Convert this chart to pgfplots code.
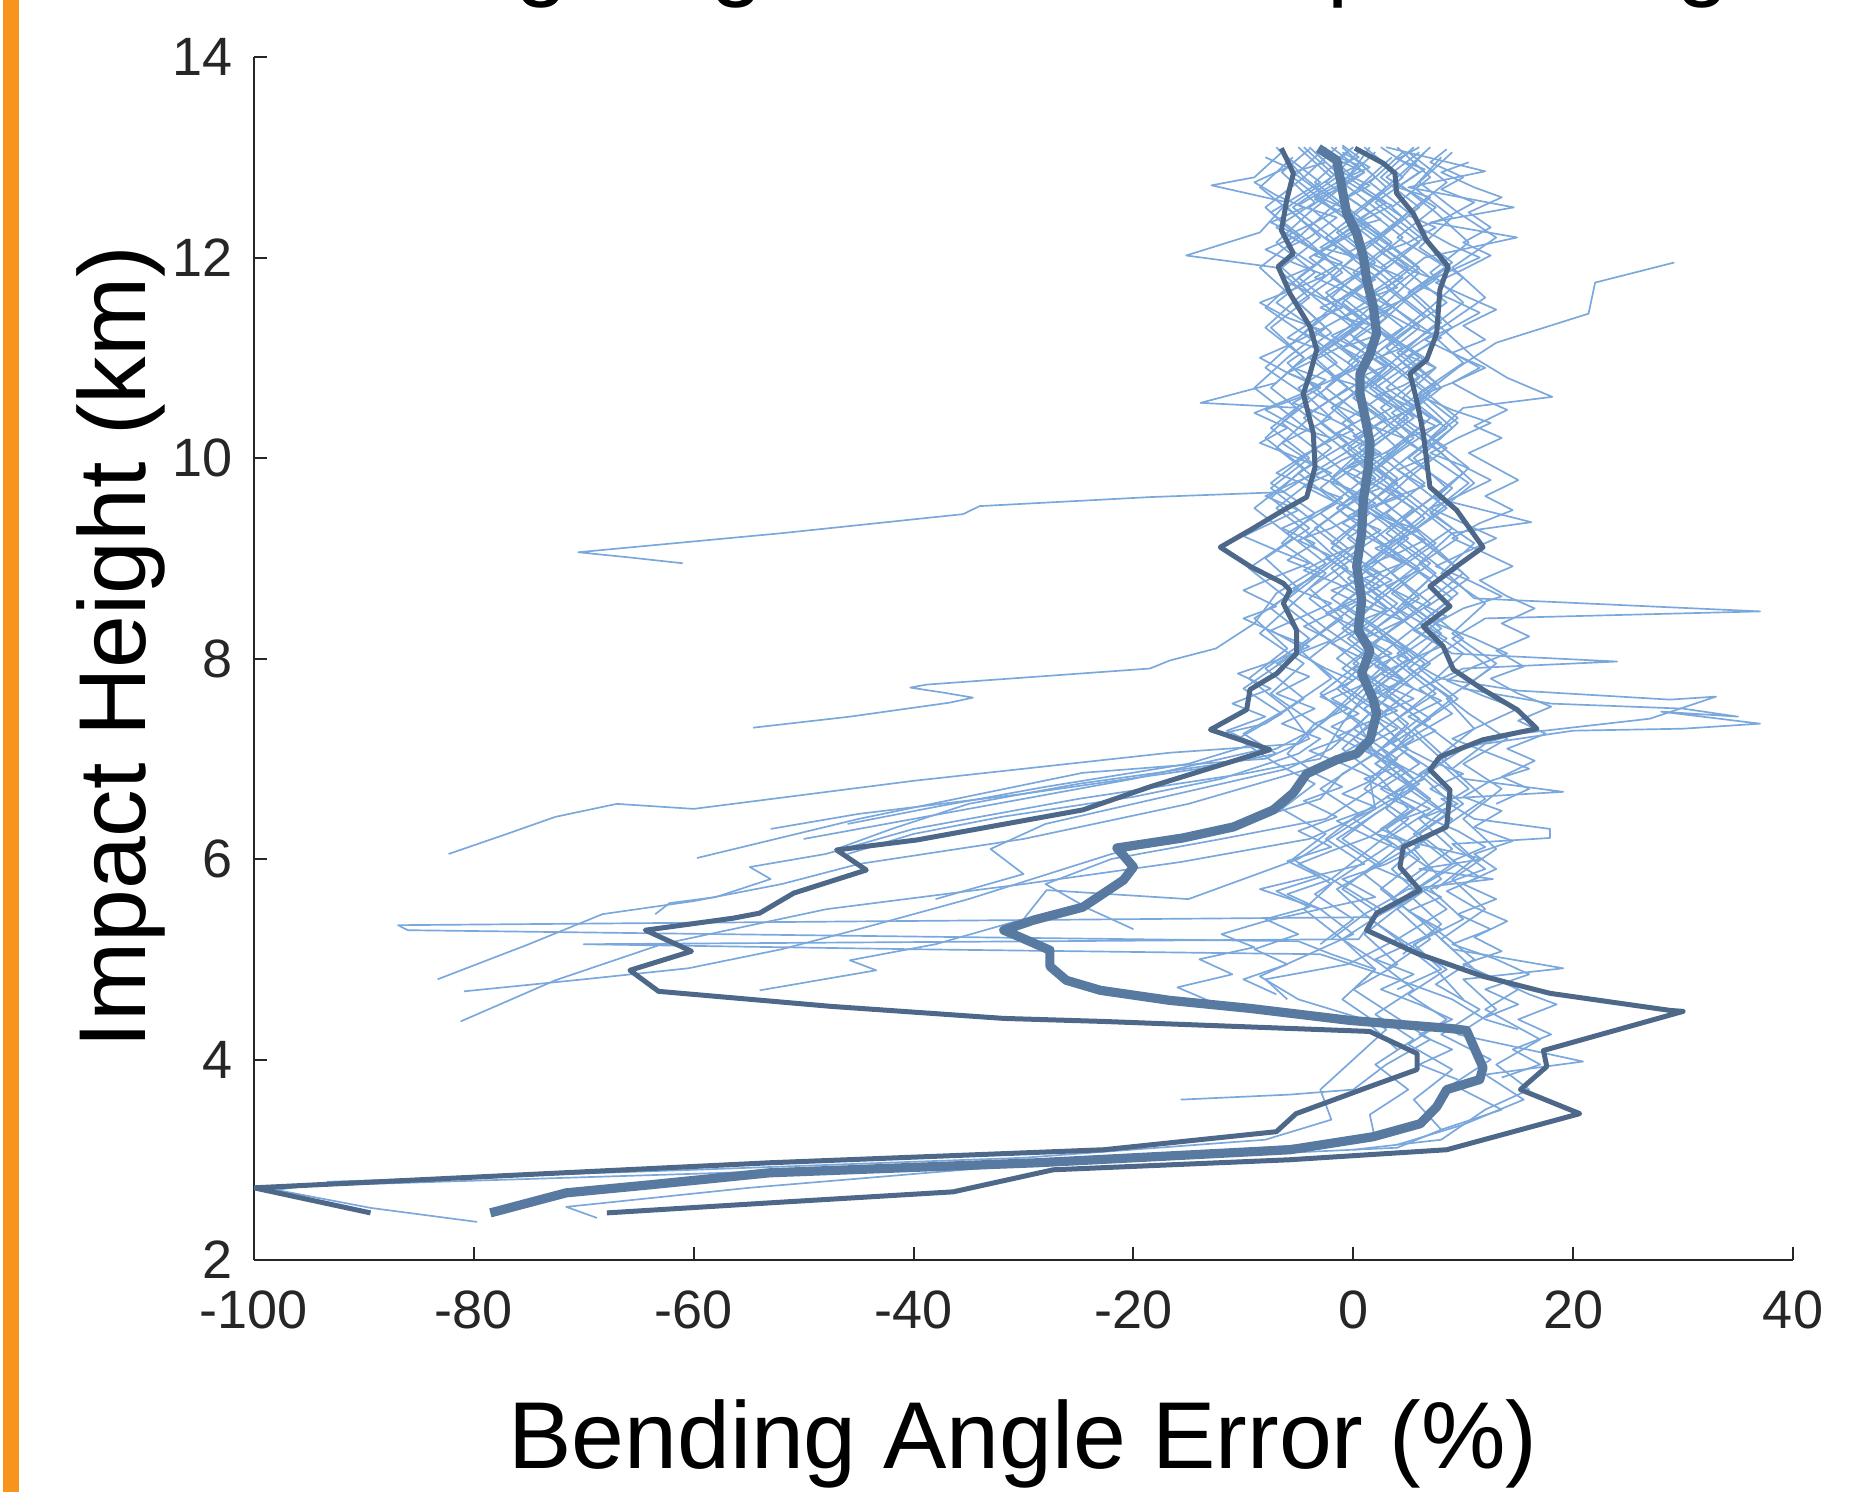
\documentclass[border=0pt]{standalone}
\usepackage{fontspec}
\setmainfont{Liberation Sans}
\usepackage{pgfplots}
\pgfplotsset{compat=1.18}

\definecolor{thinblue}{RGB}{122,168,221}
\definecolor{meanblue}{RGB}{88,122,160}
\definecolor{stdblue}{RGB}{78,104,138}
\definecolor{axgray}{RGB}{38,38,38}
\definecolor{slideorange}{RGB}{247,148,29}

\begin{document}
\begin{tikzpicture}
\begin{axis}[
    at={(63.5pt,58pt)}, anchor=south west,
    scale only axis, width=384.75pt, height=300.75pt,
    xmin=-100, xmax=40, ymin=2, ymax=14,
    enlargelimits=false,
    axis lines=left,
    axis line style={-, draw=axgray, line width=0.6pt},
    every outer x axis line/.append style={-},
    every outer y axis line/.append style={-},
    tick align=inside, major tick length=3.25pt,
    tick style={draw=axgray, line width=0.5pt},
    xtick={-100,-80,-60,-40,-20,0,20,40},
    xticklabels={-100,-80,-60,-40,-20,0,20,40},
    ytick={2,4,6,8,10,12,14},
    yticklabels={2,4,6,8,10,12,14},
    ticklabel style={font=\fontsize{13.5pt}{16pt}\selectfont, text=axgray},
    xticklabel style={yshift=-4.25pt},
    yticklabel style={xshift=-1.75pt},
    prof/.style={thinblue, line width=0.42pt, mark=none, line join=round},
    sdev/.style={stdblue, line width=1.25pt, mark=none, line join=round},
    avg/.style={meanblue, line width=2.3pt, mark=none, line join=round},
]
% individual profiles
\addplot[prof] coordinates {(-4.0,13.08)(-6.5,12.85)(-3.5,12.55)(-7.0,12.3)(-2.5,12.0)(-5.5,11.75)(-8.0,11.5)(-4.0,11.2)(-1.5,10.95)(-5.0,10.7)(-2.0,10.4)(-6.5,10.15)(-3.0,9.9)(-6.4,9.66)(-18.5,9.61)(-34,9.52)(-35.5,9.44)(-52,9.25)(-70.5,9.06)(-66,9.01)(-61,8.95)};
\addplot[prof] coordinates {(1.5,13.1)(-0.5,12.8)(3.0,12.55)(-1.5,12.25)(2.0,11.95)(-2.5,11.65)(1.0,11.35)(-3.0,11.05)(0.5,10.75)(-4.0,10.45)(-0.5,10.15)(-5.0,9.85)(-1.5,9.55)(-6.0,9.25)(-2.5,8.95)(-7.0,8.65)(-9.0,8.35)(-12.5,8.1)(-16.7,7.98)(-18.5,7.9)(-38.8,7.74)(-40.3,7.71)(-37.3,7.66)(-34.6,7.61)(-36.7,7.56)(-45.8,7.42)(-54.6,7.31)};
\addplot[prof] coordinates {(6.0,13.05)(3.0,12.8)(7.5,12.5)(4.0,12.2)(8.5,11.9)(5.0,11.6)(2.0,11.3)(6.5,11.0)(3.0,10.7)(7.0,10.4)(4.0,10.1)(1.0,9.8)(5.5,9.5)(2.0,9.2)(6.0,8.9)(2.5,8.6)(-0.5,8.3)(3.5,8.0)(0.5,7.7)(-2.5,7.4)(-5.0,7.15)(-16.7,7.06)(-40,6.78)(-60,6.5)(-67,6.55)(-72.6,6.42)(-77,6.25)(-82.3,6.05)};
\addplot[prof] coordinates {(-2.0,13.1)(1.0,12.85)(-3.5,12.6)(0.5,12.3)(-4.0,12.0)(-0.5,11.7)(3.0,11.4)(-1.0,11.1)(2.5,10.8)(-2.0,10.5)(1.5,10.2)(-3.0,9.9)(0.5,9.6)(-3.5,9.3)(0.0,9.0)(-4.0,8.7)(-1.0,8.4)(-5.0,8.1)(-2.0,7.8)(-6.0,7.5)(-4.0,7.2)(-8.0,7.0)(-24.6,6.86)(-45,6.4)(-59.7,6.01)};
\addplot[prof] coordinates {(4.0,13.1)(7.0,12.8)(3.5,12.5)(6.5,12.2)(2.5,11.9)(6.0,11.6)(9.0,11.3)(5.0,11.0)(8.0,10.7)(4.5,10.4)(8.5,10.1)(5.0,9.8)(2.0,9.5)(6.0,9.2)(9.5,8.9)(5.5,8.6)(2.0,8.3)(5.0,8.0)(1.5,7.7)(-1.0,7.35)(-3.0,7.0)(-10,6.85)(-25,6.6)(-40,6.3)(-48,6.05)(-54.9,5.92)(-53,5.8)(-58,5.62)(-62.2,5.56)(-63.5,5.45)};
\addplot[prof] coordinates {(-6.0,13.0)(-3.0,12.75)(-7.5,12.45)(-4.0,12.15)(-1.0,11.85)(-5.0,11.55)(-2.0,11.25)(-6.0,10.95)(-3.0,10.65)(0.0,10.35)(-4.0,10.05)(-7.5,9.75)(-3.5,9.45)(-6.5,9.15)(-2.5,8.85)(-5.5,8.55)(-8.5,8.25)(-4.5,7.95)(-7.5,7.65)(-3.5,7.35)(-6.0,7.05)(-4.0,6.9)(-15,6.55)(-30,6.2)(-45,5.95)(-52,5.75)(-60,5.58)(-68.3,5.45)(-75,5.15)(-83.3,4.8)};
\addplot[prof] coordinates {(0.5,13.05)(-2.5,12.75)(1.5,12.45)(-2.0,12.15)(2.5,11.85)(-1.5,11.55)(-4.5,11.25)(-0.5,10.95)(3.0,10.65)(-1.0,10.35)(2.0,10.05)(-2.0,9.75)(1.5,9.45)(-2.0,9.15)(2.5,8.85)(-1.0,8.55)(3.0,8.25)(0.0,7.95)(3.5,7.65)(0.5,7.35)(2.0,7.05)(-1.0,6.85)(-3.0,6.6)(-12,6.3)(-22,6.05)(-35,5.6)(-45,5.3)(-52,5.1)(-60.5,4.91)(-70,4.8)(-80.9,4.68)};
\addplot[prof] coordinates {(8.0,13.0)(5.5,12.7)(9.0,12.4)(6.0,12.1)(10.0,11.8)(7.0,11.5)(3.5,11.2)(7.5,10.9)(4.5,10.6)(8.5,10.3)(5.0,10.0)(9.0,9.7)(6.0,9.4)(2.5,9.1)(7.0,8.8)(4.0,8.5)(8.5,8.2)(5.0,7.9)(9.0,7.6)(5.5,7.3)(3.0,7.0)(6.0,6.75)(2.0,6.5)(-4.0,6.2)(-15.7,5.97)(-30,5.75)(-47.9,5.5)(-62.9,5.15)(-72.6,4.79)(-81.2,4.38)};
\addplot[prof] coordinates {(-1.0,13.1)(2.0,12.8)(-2.0,12.5)(1.5,12.2)(5.0,11.9)(1.0,11.6)(4.5,11.3)(0.5,11.0)(-2.5,10.7)(1.0,10.4)(4.0,10.1)(0.0,9.8)(3.5,9.5)(-0.5,9.2)(3.0,8.9)(6.0,8.6)(2.0,8.3)(5.5,8.0)(2.0,7.7)(6.0,7.4)(2.5,7.1)(5.5,6.8)(3.0,6.5)(6.5,6.2)(3.5,5.9)(6.0,5.65)(2.0,5.42)(-86.9,5.34)(-86,5.29)(-50,5.24)(-5,5.18)(-2,5.05)(2,4.9)(0,4.7)};
\addplot[prof] coordinates {(3.5,13.0)(0.5,12.7)(4.5,12.4)(1.0,12.1)(-2.0,11.8)(2.5,11.5)(-1.0,11.2)(3.0,10.9)(0.0,10.6)(4.0,10.3)(0.5,10.0)(-3.0,9.7)(1.0,9.4)(-2.0,9.1)(2.0,8.8)(-1.5,8.5)(2.5,8.2)(-1.0,7.9)(3.0,7.6)(0.0,7.3)(4.0,7.0)(1.0,6.7)(5.0,6.4)(1.5,6.1)(-2.0,5.8)(2.5,5.5)(0.5,5.2)(-70,5.15)(-40,5.1)(-3,5.05)(4,4.8)(9,4.6)(12,4.4)(15,4.3)};
\addplot[prof] coordinates {(29.2,11.95)(22.0,11.75)(21.4,11.44)(13.0,11.15)(9.5,10.9)(6.0,10.6)(9.0,10.3)(5.5,10.0)(8.5,9.7)(4.5,9.4)(7.5,9.1)(10.5,8.8)(6.5,8.5)(10.0,8.2)(6.0,7.9)(9.5,7.6)(5.5,7.3)(8.5,7.0)(5.0,6.7)(9.0,6.4)(5.5,6.1)(8.0,5.8)(4.0,5.5)(7.0,5.2)(3.0,4.9)};
\addplot[prof] coordinates {(-3.0,13.1)(0.0,12.8)(-4.0,12.5)(-0.5,12.2)(3.0,11.9)(-1.0,11.6)(2.5,11.3)(6.0,11.0)(2.0,10.7)(5.5,10.4)(1.5,10.1)(5.0,9.8)(8.5,9.5)(4.5,9.2)(8.0,8.9)(11.0,8.6)(37.0,8.47)(12.0,8.4)(9.0,8.2)(12.5,7.9)(8.5,7.6)(11.0,7.3)(7.5,7.0)(10.5,6.7)(6.0,6.4)(9.0,6.1)(5.0,5.8)(8.5,5.5)(4.0,5.2)(7.5,4.9)(10.0,4.6)};
\addplot[prof] coordinates {(5.0,13.05)(8.5,12.75)(5.0,12.45)(2.0,12.15)(6.0,11.85)(3.0,11.55)(7.0,11.25)(10.0,10.95)(6.0,10.65)(9.5,10.35)(6.5,10.05)(10.5,9.75)(7.0,9.45)(11.0,9.15)(8.0,8.85)(12.0,8.55)(9.0,8.25)(13.0,7.95)(10.0,7.7)(18.0,7.55)(30.0,7.5)(35.0,7.42)(28.0,7.47)(37.0,7.35)(30.0,7.3)(20.0,7.28)(12.0,7.15)(9.0,6.9)(12.0,6.6)(8.0,6.3)(11.0,6.0)(7.5,5.7)};
\addplot[prof] coordinates {(-5.0,13.1)(-2.0,12.8)(-6.0,12.5)(-3.0,12.2)(-6.5,11.9)(-3.5,11.6)(0.0,11.3)(-4.0,11.0)(-0.5,10.7)(3.0,10.4)(-1.0,10.1)(2.5,9.8)(-1.5,9.5)(2.0,9.2)(5.5,8.9)(2.0,8.6)(5.5,8.3)(9.0,8.05)(24.0,7.97)(10.0,7.9)(6.0,7.7)(9.0,7.45)(5.0,7.2)(2.0,6.95)(5.5,6.7)(2.0,6.45)(-1.0,6.2)(2.5,5.95)(-1.5,5.7)(1.0,5.45)(-2.0,5.2)};
\addplot[prof] coordinates {(2.5,13.1)(6.0,12.85)(2.0,12.55)(5.5,12.25)(9.0,11.95)(5.0,11.65)(8.0,11.35)(4.0,11.05)(7.5,10.75)(3.5,10.45)(7.0,10.15)(10.0,9.85)(6.5,9.55)(3.0,9.25)(7.0,8.95)(3.5,8.65)(7.5,8.35)(4.0,8.05)(8.0,7.8)(15.0,7.68)(28.8,7.59)(33.0,7.62)(27.0,7.4)(15.0,7.25)(10.0,7.1)(6.5,6.85)(10.0,6.55)(6.0,6.25)(9.5,5.95)(5.0,5.65)(8.0,5.35)(4.5,5.05)};
\addplot[prof] coordinates {(-6.5,13.05)(-9.0,12.8)(-12.9,12.72)(-6.0,12.55)(-8.5,12.25)(-15.2,12.02)(-7.0,11.9)(-4.0,11.6)(-7.5,11.3)(-4.5,11.0)(-7.0,10.75)(-13.9,10.55)(-5.0,10.5)(-8.0,10.2)(-4.5,9.9)(-7.5,9.6)(-4.0,9.3)(-8.0,9.0)(-5.0,8.7)(-9.0,8.4)(-6.0,8.1)(-9.5,7.8)(-6.0,7.5)(-10.0,7.25)(-7.0,7.05)(-14,6.9)(-30,6.65)(-45,6.45)(-53,6.3)};
\addplot[prof] coordinates {(9.0,13.05)(6.0,12.75)(9.5,12.45)(13.0,12.2)(9.0,11.9)(12.0,11.6)(8.0,11.3)(11.0,11.0)(14.0,10.8)(18.1,10.61)(10.0,10.5)(7.0,10.2)(10.5,9.9)(7.5,9.6)(16.2,9.36)(9.0,9.25)(6.0,8.95)(9.5,8.65)(6.0,8.35)(10.0,8.05)(7.0,7.75)(10.5,7.45)(14.0,7.2)(10.0,6.95)(13.5,6.7)(10.0,6.4)(13.0,6.1)(9.0,5.8)(12.0,5.5)(8.0,5.2)(11.0,4.9)(15.0,4.7)(12.0,4.5)(17.0,4.2)(13.0,3.95)(16.0,3.7)(12.0,3.5)(8.0,3.2)(0,3.1)};
\addplot[prof] coordinates {(3.0,13.1)(12.0,12.86)(5.0,12.7)(14.6,12.5)(7.0,12.35)(14.9,12.2)(6.5,12.0)(3.0,11.7)(6.5,11.4)(3.0,11.1)(6.0,10.8)(2.5,10.5)(5.5,10.2)(2.0,9.9)(5.5,9.6)(9.0,9.3)(5.0,9.0)(1.5,8.7)(5.0,8.4)(1.0,8.1)(4.5,7.8)(1.0,7.5)(4.0,7.2)(0.5,6.95)(-3.0,6.7)(0.5,6.45)(-2.5,6.2)(1.0,5.95)(-8.5,5.7)(-3.0,5.5)(0.0,5.25)(-8.5,4.83)(-5.0,4.6)(1.0,4.4)(4.0,4.1)};
\addplot[prof] coordinates {(-0.5,13.05)(-3.5,12.75)(0.0,12.45)(3.5,12.15)(0.0,11.85)(3.0,11.55)(-0.5,11.25)(3.5,10.95)(0.0,10.65)(-3.0,10.35)(0.5,10.05)(4.0,9.75)(0.0,9.45)(3.5,9.15)(0.0,8.85)(4.0,8.55)(0.5,8.25)(4.0,7.95)(7.5,7.65)(4.0,7.4)(7.0,7.1)(10.0,6.8)(19.1,6.67)(8.0,6.6)(11.0,6.4)(17.9,6.3)(17.9,6.21)(9.0,6.15)(12.0,5.9)(7.0,5.7)(10.0,5.4)(5.5,5.15)(8.0,4.9)(4.0,4.7)};
\addplot[prof] coordinates {(-4.5,13.1)(-1.5,12.8)(-5.5,12.5)(-2.0,12.2)(1.5,11.9)(-2.5,11.6)(0.5,11.3)(-3.5,11.0)(-0.5,10.7)(-4.5,10.4)(-1.0,10.1)(2.0,9.8)(-1.5,9.5)(2.0,9.2)(-2.0,8.9)(1.0,8.6)(-2.5,8.3)(1.5,8.0)(-1.5,7.7)(2.0,7.4)(-1.0,7.1)(2.5,6.8)(5.0,6.5)(2.0,6.25)(11.8,6.0)(6.0,5.9)(12.7,5.8)(5.0,5.7)(1.0,5.45)(4.0,5.2)(-0.5,4.95)(-8,4.8)(-6,4.6)};
\addplot[prof] coordinates {(6.5,13.05)(4.0,12.75)(7.5,12.45)(10.5,12.15)(7.0,11.85)(10.0,11.55)(6.5,11.25)(3.5,10.95)(7.0,10.65)(4.0,10.35)(8.0,10.05)(11.0,9.75)(7.5,9.45)(4.0,9.15)(7.5,8.85)(4.5,8.55)(8.0,8.25)(5.0,7.95)(1.5,7.65)(5.0,7.35)(2.0,7.05)(5.0,6.75)(8.5,6.45)(4.5,6.15)(1.0,5.85)(4.5,5.55)(1.0,5.25)(4.0,4.95)(0.0,4.7)(3.5,4.45)(7.0,4.2)(3.0,3.95)(0.0,3.7)(-5.8,3.65)(-15.7,3.6)};
\addplot[prof] coordinates {(-2.5,13.1)(-5.5,12.8)(-2.0,12.5)(-5.0,12.2)(-1.5,11.9)(-5.0,11.6)(-8.0,11.3)(-4.5,11.0)(-7.5,10.7)(-4.0,10.4)(-7.0,10.1)(-3.5,9.8)(-7.0,9.5)(-3.5,9.2)(-0.5,8.9)(-4.0,8.6)(-0.5,8.3)(-4.0,8.0)(-0.5,7.7)(3.0,7.45)(0.0,7.2)(3.5,6.9)(7.0,6.6)(3.0,6.3)(6.0,6.0)(2.5,5.7)(6.0,5.4)(9.0,5.1)(19.1,4.91)(10.0,4.8)(13.0,4.5)(9.5,4.25)(20.9,3.98)(12.0,3.85)(15.5,3.6)(10.0,3.35)(4.0,3.15)};
\addplot[prof] coordinates {(1.0,13.1)(4.5,12.8)(1.0,12.5)(-2.5,12.2)(1.0,11.9)(-2.0,11.6)(2.0,11.3)(5.0,11.0)(1.5,10.7)(5.0,10.4)(1.0,10.1)(-2.0,9.8)(1.5,9.5)(5.0,9.2)(1.5,8.9)(-2.0,8.6)(2.0,8.3)(-1.5,8.0)(2.5,7.7)(-0.5,7.45)(3.0,7.2)(6.0,6.95)(2.5,6.7)(6.5,6.45)(3.0,6.2)(7.0,5.9)(3.5,5.6)(7.5,5.3)(11.0,5.0)(7.5,4.75)(11.5,4.5)(8.0,4.25)(12.5,4.0)(9.0,3.75)(13.5,3.5)(8.0,3.3)};
\addplot[prof] coordinates {(-7.0,13.1)(-4.5,12.8)(-8.0,12.5)(-5.0,12.2)(-8.5,11.9)(-5.5,11.6)(-2.5,11.3)(-6.0,11.0)(-9.0,10.7)(-5.5,10.4)(-2.0,10.1)(-5.5,9.8)(-9.0,9.5)(-5.5,9.2)(-9.5,8.9)(-6.0,8.6)(-2.5,8.3)(-6.0,8.0)(-10.0,7.7)(-6.5,7.45)(-10.5,7.2)(-7.0,6.95)(-3.5,6.75)(-6.5,6.5)(-2.5,6.25)(-5.5,6.0)(-2.0,5.75)(-4.5,5.5)(-1.0,5.2)(2.0,4.9)(-1.0,4.6)(3.0,4.3)(0.0,4.0)(-3.0,3.7)(-2.0,3.4)(-8.0,3.2)(-30.0,3.02)(-60.0,2.9)(-93.4,2.78)};
\addplot[prof] coordinates {(4.5,13.05)(1.5,12.75)(5.0,12.45)(1.5,12.15)(5.0,11.85)(8.5,11.55)(4.5,11.25)(1.0,10.95)(4.5,10.65)(8.0,10.35)(4.0,10.05)(0.5,9.75)(4.0,9.45)(7.5,9.15)(3.5,8.85)(7.0,8.55)(3.0,8.25)(6.5,7.95)(3.0,7.65)(6.5,7.35)(9.5,7.1)(6.0,6.85)(9.0,6.55)(5.5,6.25)(9.0,5.95)(5.0,5.65)(1.5,5.4)(5.0,5.15)(8.5,4.9)(5.0,4.65)(8.5,4.4)(5.0,4.15)(9.0,3.9)(5.5,3.6)(8.0,3.3)(4.0,3.12)(-20,3.0)(-60,2.86)(-95,2.74)(-98,2.7)(-89.4,2.52)(-79.7,2.38)};
\addplot[prof] coordinates {(-1.5,13.1)(-4.5,12.8)(-1.0,12.5)(2.5,12.2)(-1.0,11.9)(2.5,11.6)(-0.5,11.3)(-4.0,11.0)(-0.5,10.7)(3.0,10.4)(-0.5,10.1)(3.0,9.8)(-1.0,9.5)(-4.5,9.2)(-1.0,8.9)(2.5,8.6)(-1.0,8.3)(2.5,8.0)(-1.0,7.7)(2.5,7.45)(5.5,7.2)(2.0,6.95)(5.5,6.7)(2.0,6.45)(-1.5,6.2)(2.0,5.95)(-1.0,5.7)(2.5,5.45)(-1.0,5.2)(2.5,4.95)(5.5,4.7)(2.0,4.45)(5.5,4.2)(2.0,3.95)(5.0,3.7)(1.5,3.45)(2.0,3.2)(-30,2.95)(-55,2.72)(-71.6,2.53)(-68.8,2.42)};
\addplot[prof] coordinates {(0.0,13.0)(3.0,12.7)(-0.5,12.4)(3.5,12.1)(7.0,11.8)(3.5,11.5)(0.0,11.2)(3.5,10.9)(0.0,10.6)(3.5,10.3)(7.0,10.0)(3.0,9.7)(6.5,9.4)(3.0,9.1)(-0.5,8.8)(3.0,8.5)(-0.5,8.2)(3.0,7.9)(0.0,7.6)(-3.5,7.3)(-7.0,7.1)(-12,6.95)(-25,6.75)(-35,6.55)(-42,6.3)(-47,6.1)(-44.3,5.89)(-50.9,5.66)(-54,5.46)};
\addplot[prof] coordinates {(-3.5,13.05)(-0.5,12.75)(-4.0,12.45)(-7.0,12.15)(-3.5,11.85)(-7.0,11.55)(-3.0,11.25)(0.5,10.95)(-3.0,10.65)(-6.5,10.35)(-3.0,10.05)(0.5,9.75)(-3.0,9.45)(0.5,9.15)(-3.0,8.85)(-6.5,8.55)(-3.0,8.25)(0.5,7.95)(-3.0,7.65)(0.5,7.35)(-2.0,7.1)(-6.0,6.9)(-18,6.6)(-28,6.35)(-33,6.1)(-30,5.85)(-38,5.6)};
\addplot[prof] coordinates {(7.0,13.1)(4.0,12.8)(1.0,12.5)(4.5,12.2)(1.0,11.9)(4.5,11.6)(8.0,11.3)(4.0,11.0)(7.5,10.7)(4.0,10.4)(0.5,10.1)(4.0,9.8)(1.0,9.5)(4.5,9.2)(1.0,8.9)(4.5,8.6)(8.0,8.3)(4.0,8.0)(7.5,7.7)(4.0,7.4)(1.0,7.15)(4.5,6.9)(1.0,6.65)(-2.5,6.4)(-12,6.2)(-22,6.0)(-28,5.75)(-24,5.5)(-20,5.3)};
\addplot[prof] coordinates {(-5.5,13.0)(-8.5,12.7)(-5.0,12.4)(-1.5,12.1)(-5.0,11.8)(-1.5,11.5)(-5.0,11.2)(-8.0,10.9)(-4.0,10.6)(-7.5,10.3)(-4.0,10.0)(-7.5,9.7)(-4.0,9.4)(-0.5,9.1)(-4.0,8.8)(-7.5,8.5)(-4.0,8.2)(-8.0,7.9)(-4.5,7.6)(-8.0,7.35)(-12.0,7.25)(-8.0,7.1)(-20,6.8)(-35,6.5)(-50,6.2)};
\addplot[prof] coordinates {(2.0,13.05)(-1.0,12.75)(2.5,12.45)(6.0,12.15)(2.5,11.85)(-1.0,11.55)(2.5,11.25)(-0.5,10.95)(3.0,10.65)(6.5,10.35)(3.0,10.05)(6.5,9.75)(3.0,9.45)(6.5,9.15)(10.0,8.85)(6.5,8.55)(3.0,8.25)(7.0,7.95)(3.5,7.65)(7.0,7.4)(3.5,7.15)(7.0,6.9)(3.5,6.65)(0.0,6.4)(3.5,6.15)(0.0,5.9)(-3.5,5.65)(0.0,5.4)(-3.0,5.15)};
\addplot[prof] coordinates {(5.5,13.1)(2.5,12.8)(6.0,12.5)(2.5,12.2)(6.0,11.9)(2.5,11.6)(6.0,11.3)(2.5,11.0)(6.0,10.7)(9.5,10.4)(6.0,10.1)(2.5,9.8)(6.0,9.5)(9.5,9.2)(5.5,8.9)(9.0,8.6)(5.5,8.3)(2.0,8.0)(5.5,7.7)(2.0,7.4)(5.0,7.1)(1.5,6.8)(2.0,6.5)(-5,6.0)(-15,5.6)(-27.9,5.69)(-30,5.4)(-38,5.15)(-45.8,4.99)(-43.4,4.89)(-54,4.69)};
\addplot[prof] coordinates {(-1.0,13.12)(0.5,13.0)(-2.0,12.9)(1.5,12.72)(-0.5,12.6)(2.5,12.38)(0.0,12.3)(-3.0,12.1)(1.0,11.98)(4.0,11.7)(2.0,11.62)(-1.0,11.4)(1.5,11.33)(4.5,11.1)(1.0,10.95)(-2.0,10.8)(0.5,10.72)(3.5,10.5)(1.0,10.35)(5.0,10.18)(2.0,10.0)(-1.0,9.88)(2.5,9.7)(0.0,9.6)(3.0,9.4)(6.0,9.28)(2.0,9.1)(4.5,8.95)(1.0,8.8)(-2.0,8.68)(1.5,8.5)(4.5,8.38)(1.0,8.2)(3.5,8.05)(0.0,7.9)(2.5,7.75)(5.5,7.6)(2.0,7.42)(4.0,7.3)(1.0,7.12)(3.5,6.98)(6.5,6.8)(3.0,6.62)(5.5,6.5)(2.5,6.3)(6.0,6.12)(3.0,5.95)(-1.0,5.8)(2.0,5.62)(-3.0,5.5)};
\addplot[prof] coordinates {(-4.0,13.1)(-2.5,12.95)(-5.5,12.85)(-3.0,12.65)(-5.0,12.52)(-1.5,12.4)(-4.0,12.2)(-6.0,12.1)(-3.5,11.92)(-6.5,11.78)(-4.0,11.65)(-1.0,11.5)(-3.5,11.38)(-6.0,11.2)(-3.0,11.08)(-5.5,10.9)(-2.5,10.78)(-5.0,10.6)(-8.0,10.48)(-5.0,10.3)(-2.0,10.2)(-4.5,10.02)(-7.0,9.85)(-4.0,9.72)(-1.0,9.6)(-4.0,9.42)(-6.5,9.3)(-3.5,9.15)(-6.0,8.98)(-3.0,8.85)(-5.5,8.7)(-2.0,8.55)(-5.0,8.4)(-7.5,8.28)(-4.5,8.1)(-7.0,7.95)(-4.0,7.82)(-7.0,7.65)(-3.5,7.5)(-6.5,7.35)(-3.0,7.2)(-5.0,7.05)(-12,6.8)(-20,6.62)(-32,6.42)(-40,6.25)(-46,6.05)};
\addplot[prof] coordinates {(8.5,13.08)(7.0,12.95)(10.0,12.8)(8.0,12.68)(11.0,12.55)(8.5,12.4)(6.0,12.3)(9.0,12.12)(11.5,12.0)(8.5,11.85)(6.0,11.72)(9.0,11.58)(11.5,11.45)(9.0,11.3)(6.5,11.18)(9.5,11.02)(12.0,10.9)(9.0,10.75)(6.0,10.62)(9.0,10.48)(12.5,10.35)(9.5,10.2)(7.0,10.05)(10.0,9.92)(12.5,9.78)(9.5,9.62)(7.0,9.5)(10.0,9.35)(13.0,9.2)(10.0,9.05)(7.5,8.92)(10.5,8.78)(13.5,8.62)(10.0,8.5)(7.5,8.35)(11.0,8.2)(14.0,8.05)(11.0,7.92)(8.5,7.78)(12.0,7.62)(15.0,7.5)(12.0,7.35)(9.0,7.2)(12.5,7.05)(16.0,6.9)(12.5,6.78)(10.0,6.62)(13.5,6.48)(11.0,6.32)(14.5,6.18)(11.0,6.05)(13.0,5.9)(10.0,5.75)(13.0,5.6)(9.5,5.45)(12.5,5.3)(9.0,5.15)(13.0,5.0)(16.0,4.85)(12.0,4.7)(15.0,4.55)(12.0,4.42)};
\addplot[prof] coordinates {(-2.5,13.05)(0.5,12.92)(-1.5,12.82)(1.5,12.62)(3.5,12.52)(0.5,12.35)(2.5,12.22)(-0.5,12.05)(2.0,11.92)(4.5,11.8)(1.5,11.62)(3.5,11.5)(0.5,11.35)(-2.0,11.22)(0.5,11.08)(3.0,10.92)(0.5,10.8)(3.0,10.62)(5.5,10.5)(2.5,10.35)(0.0,10.22)(2.5,10.05)(-0.5,9.92)(2.0,9.78)(4.5,9.62)(1.5,9.5)(-1.0,9.35)(1.5,9.2)(4.0,9.05)(1.0,8.92)(3.5,8.78)(0.5,8.62)(3.0,8.48)(0.0,8.35)(2.5,8.2)(5.0,8.08)(2.0,7.92)(4.5,7.78)(1.5,7.62)(4.0,7.48)(1.0,7.35)(-1.5,7.22)(1.0,7.08)(4.0,6.92)(1.0,6.8)(4.0,6.65)(7.0,6.5)(4.0,6.38)(1.5,6.22)(4.5,6.08)(2.0,5.92)(5.0,5.78)(8.0,5.62)(5.0,5.48)(8.0,5.3)(5.0,5.15)(2.0,5.0)(5.5,4.85)(2.5,4.7)(6.0,4.55)(9.0,4.4)(6.0,4.25)(9.0,4.1)(6.0,3.95)(9.5,3.8)};
\addplot[prof] coordinates {(6.0,13.1)(4.0,12.98)(6.5,12.88)(4.0,12.7)(7.0,12.6)(5.0,12.42)(7.5,12.3)(5.0,12.15)(2.5,12.05)(5.0,11.88)(7.5,11.78)(5.0,11.6)(2.5,11.48)(5.5,11.3)(8.0,11.2)(5.0,11.02)(7.5,10.9)(4.5,10.72)(2.0,10.62)(5.0,10.45)(7.5,10.32)(4.5,10.18)(7.0,10.02)(4.0,9.88)(6.5,9.72)(3.5,9.6)(1.0,9.48)(4.0,9.32)(6.5,9.18)(3.5,9.02)(6.0,8.88)(3.0,8.72)(5.5,8.58)(8.5,8.42)(5.5,8.28)(8.0,8.12)(5.0,7.98)(2.5,7.85)(5.5,7.7)(8.0,7.58)(5.0,7.42)(7.5,7.28)(4.5,7.12)(7.0,6.98)(10.0,6.85)(7.0,6.7)(9.5,6.55)(6.5,6.42)(9.5,6.28)(12.0,6.12)(9.0,5.98)(11.5,5.82)(8.5,5.68)(11.0,5.52)(14.0,5.38)(11.0,5.22)(13.5,5.08)(10.0,4.95)(13.0,4.8)(16.0,4.65)(18.5,4.55)(15.0,4.4)(18.0,4.25)(14.5,4.1)(17.0,3.95)(13.5,3.82)};
\addplot[prof] coordinates {(-8.0,13.0)(-6.0,12.9)(-9.0,12.75)(-7.0,12.62)(-4.5,12.5)(-7.5,12.35)(-5.0,12.22)(-8.0,12.08)(-5.5,11.95)(-2.5,11.82)(-5.5,11.68)(-8.5,11.55)(-6.0,11.4)(-3.0,11.28)(-6.0,11.12)(-8.5,11.0)(-6.0,10.85)(-3.0,10.72)(-6.0,10.58)(-9.0,10.45)(-6.0,10.3)(-8.5,10.15)(-5.5,10.02)(-2.5,9.88)(-5.5,9.75)(-8.0,9.62)(-5.0,9.48)(-7.5,9.35)(-10.0,9.22)(-7.0,9.08)(-4.0,8.95)(-7.0,8.82)(-10.0,8.68)(-7.0,8.52)(-10.0,8.4)(-7.0,8.25)(-4.0,8.12)(-7.0,7.98)(-10.5,7.85)(-7.5,7.7)(-11.0,7.55)(-8.0,7.42)(-11.5,7.28)(-9.0,7.15)(-15,6.95)(-28,6.72)(-38,6.52)(-46,6.35)};
\addplot[prof] coordinates {(0.0,13.1)(-1.5,12.98)(1.0,12.85)(-1.0,12.7)(-3.5,12.58)(-1.0,12.45)(1.5,12.32)(-1.0,12.18)(-3.5,12.02)(-0.5,11.9)(2.0,11.78)(-0.5,11.62)(-3.0,11.5)(-0.5,11.38)(2.0,11.22)(-1.0,11.1)(1.5,10.95)(-1.5,10.8)(-4.0,10.68)(-1.5,10.52)(1.0,10.4)(-1.5,10.25)(1.5,10.1)(-1.0,9.98)(-3.5,9.82)(-0.5,9.7)(2.0,9.55)(-0.5,9.42)(2.5,9.28)(0.0,9.12)(-2.5,9.0)(0.0,8.85)(2.5,8.72)(0.0,8.58)(-2.5,8.45)(0.5,8.3)(-2.0,8.15)(0.5,8.02)(3.0,7.88)(0.5,7.72)(-2.0,7.6)(0.5,7.45)(-2.0,7.32)(1.0,7.18)(-1.5,7.02)(-4.0,6.88)(-1.0,6.72)(-4.5,6.58)(-1.5,6.42)(-5.0,6.28)(-2.0,6.12)(-6.0,5.98)(-3.0,5.82)(-7.0,5.68)(-4.0,5.52)(-8.0,5.4)(-5.0,5.25)(-9.0,5.1)(-6.0,4.95)(-10.0,4.8)(-7.0,4.65)};
\addplot[prof] coordinates {(10.5,12.95)(8.0,12.85)(11.0,12.7)(13.5,12.6)(10.5,12.45)(12.5,12.3)(10.0,12.15)(12.5,12.02)(10.0,11.88)(7.5,11.75)(10.5,11.6)(13.0,11.48)(10.0,11.32)(12.0,11.18)(9.0,11.05)(11.5,10.9)(9.0,10.75)(11.5,10.6)(14.0,10.48)(11.0,10.32)(13.5,10.2)(10.5,10.05)(13.0,9.9)(15.0,9.78)(12.0,9.62)(14.5,9.48)(11.5,9.35)(9.0,9.2)(12.0,9.05)(14.5,8.92)(11.5,8.78)(14.0,8.62)(16.5,8.5)(13.5,8.35)(16.0,8.22)(13.0,8.08)(15.5,7.92)(12.5,7.8)(15.0,7.65)(18.0,7.52)(15.0,7.38)(17.5,7.25)(14.0,7.1)(16.5,6.98)(13.5,6.82)(16.0,6.7)(13.0,6.55)};
\addplot[prof] coordinates {(-1.0,13.05)(1.5,12.9)(-1.0,12.78)(-3.5,12.62)(-1.0,12.5)(-3.5,12.35)(-6.0,12.22)(-3.5,12.08)(-1.0,11.95)(-3.5,11.8)(-1.0,11.68)(1.5,11.52)(-1.0,11.4)(-3.5,11.25)(-1.0,11.12)(-3.5,10.98)(-6.0,10.85)(-3.0,10.7)(-5.5,10.55)(-2.5,10.42)(0.0,10.28)(-2.5,10.15)(-5.0,10.0)(-2.0,9.85)(-4.5,9.72)(-2.0,9.58)(0.5,9.45)(-2.0,9.3)(-5.0,9.18)(-2.0,9.02)(-4.5,8.88)(-1.5,8.75)(1.0,8.6)(-1.5,8.48)(-4.5,8.32)(-2.0,8.18)(-5.0,8.05)(-2.5,7.9)(0.0,7.78)(-3.0,7.62)(-0.5,7.5)(-3.5,7.35)(-1.0,7.2)(-4.0,7.08)(-1.0,6.95)(2.0,6.8)(-1.0,6.65)(2.0,6.52)(-1.5,6.38)(1.5,6.22)(-2.0,6.08)(-5.0,5.95)(-2.0,5.8)(-6.0,5.65)(-3.0,5.5)(-8.0,5.38)(-12.0,5.25)(-9.0,5.12)(-14.0,5.0)(-11.0,4.85)(-16.0,4.72)(-13.0,4.58)};
% mean minus / plus one standard deviation
\addplot[sdev] coordinates {(-6.54,13.09)(-5.45,12.84)(-6.06,12.57)(-6.54,12.27)(-5.45,12.04)(-6.84,11.91)(-5.76,11.64)(-3.94,11.31)(-3.33,11.08)(-3.94,10.84)(-4.55,10.64)(-3.64,10.25)(-3.48,9.91)(-4.24,9.61)(-6.36,9.48)(-9.4,9.28)(-12.1,9.11)(-9.4,8.92)(-6.36,8.75)(-5.76,8.68)(-6.36,8.55)(-5.15,8.28)(-5.15,8.05)(-6.97,7.85)(-9.4,7.69)(-9.7,7.49)(-13.0,7.29)(-7.58,7.09)(-18.5,6.72)(-24.6,6.49)(-39.7,6.19)(-47.0,6.09)(-44.3,5.89)(-50.9,5.66)(-54.0,5.46)(-56.4,5.41)(-64.4,5.29)(-60.2,5.08)(-65.8,4.89)(-63.2,4.68)(-47.5,4.53)(-31.8,4.41)(-22.8,4.38)(-5.8,4.31)(1.5,4.28)(5.8,4.06)(5.8,3.90)(1.5,3.73)(-5.2,3.46)(-5.8,3.40)(-7.0,3.28)(-22.7,3.10)(-53.1,2.97)(-100,2.72)(-89.4,2.47)};
\addplot[sdev] coordinates {(0.15,13.09)(2.73,12.94)(3.79,12.84)(3.94,12.64)(5.45,12.44)(6.67,12.17)(8.64,11.91)(7.88,11.68)(7.58,11.24)(6.67,10.98)(5.15,10.84)(5.76,10.58)(6.36,10.25)(6.97,9.71)(9.4,9.48)(11.8,9.11)(9.4,8.92)(6.97,8.72)(8.8,8.52)(6.36,8.32)(8.18,8.12)(9.1,7.89)(11.8,7.69)(14.9,7.49)(16.7,7.30)(11.8,7.19)(7.88,7.02)(6.97,6.89)(8.8,6.69)(8.49,6.32)(4.55,6.12)(4.24,5.92)(6.06,5.69)(2.12,5.46)(1.21,5.29)(5.76,5.06)(11.8,4.83)(17.9,4.66)(28.8,4.49)(30.0,4.48)(17.3,4.09)(17.6,3.93)(15.2,3.70)(20.6,3.46)(8.5,3.10)(-5.8,3.00)(-27.3,2.90)(-36.4,2.68)(-53.1,2.57)(-67.9,2.47)};
% mean
\addplot[avg] coordinates {(-3.18,13.09)(-1.51,12.97)(-1.06,12.71)(-0.60,12.44)(0.31,12.24)(0.91,12.01)(1.21,11.78)(1.82,11.51)(2.12,11.24)(1.52,11.04)(0.61,10.84)(0.61,10.64)(1.06,10.41)(1.52,10.15)(1.37,9.91)(0.91,9.58)(0.76,9.25)(0.31,8.92)(0.76,8.58)(0.46,8.28)(1.52,8.08)(0.76,7.85)(1.82,7.59)(2.12,7.45)(1.52,7.19)(0.31,7.05)(-1.51,6.99)(-4.24,6.85)(-5.45,6.66)(-7.27,6.49)(-10.9,6.32)(-15.5,6.21)(-18.5,6.16)(-21.5,6.11)(-20.0,5.92)(-20.9,5.79)(-24.6,5.52)(-29.1,5.39)(-31.8,5.29)(-30.3,5.22)(-27.6,5.09)(-27.6,4.93)(-26.1,4.79)(-23.0,4.69)(-16.7,4.59)(-9.4,4.51)(-0.3,4.39)(8.8,4.31)(10.3,4.29)(11.8,3.92)(11.5,3.80)(8.5,3.70)(7.6,3.53)(6.1,3.36)(1.82,3.23)(-5.76,3.10)(-28.8,2.97)(-53.1,2.87)(-64,2.75)(-71.6,2.67)(-78.5,2.47)};
\end{axis}
% slide edge and labels
\fill[slideorange] (0.75pt,0pt) rectangle (4.75pt,373pt);
\node[rotate=90, anchor=base, inner sep=0pt, font=\fontsize{23.75pt}{28pt}\selectfont] at (36.25pt,211.25pt) {Impact Height (km)};
\node[anchor=base, inner sep=0pt, font=\fontsize{23.75pt}{28pt}\selectfont] at (255.75pt,6pt) {Bending Angle Error (\%)};
\node[anchor=base, inner sep=0pt, font=\fontsize{23.75pt}{28pt}\selectfont] at (253.5pt,375.8pt) {Bending Angle Error vs Impact Height};
\pgfresetboundingbox
\path[use as bounding box] (0pt,0pt) rectangle (463pt,373pt);
\end{tikzpicture}
\end{document}
